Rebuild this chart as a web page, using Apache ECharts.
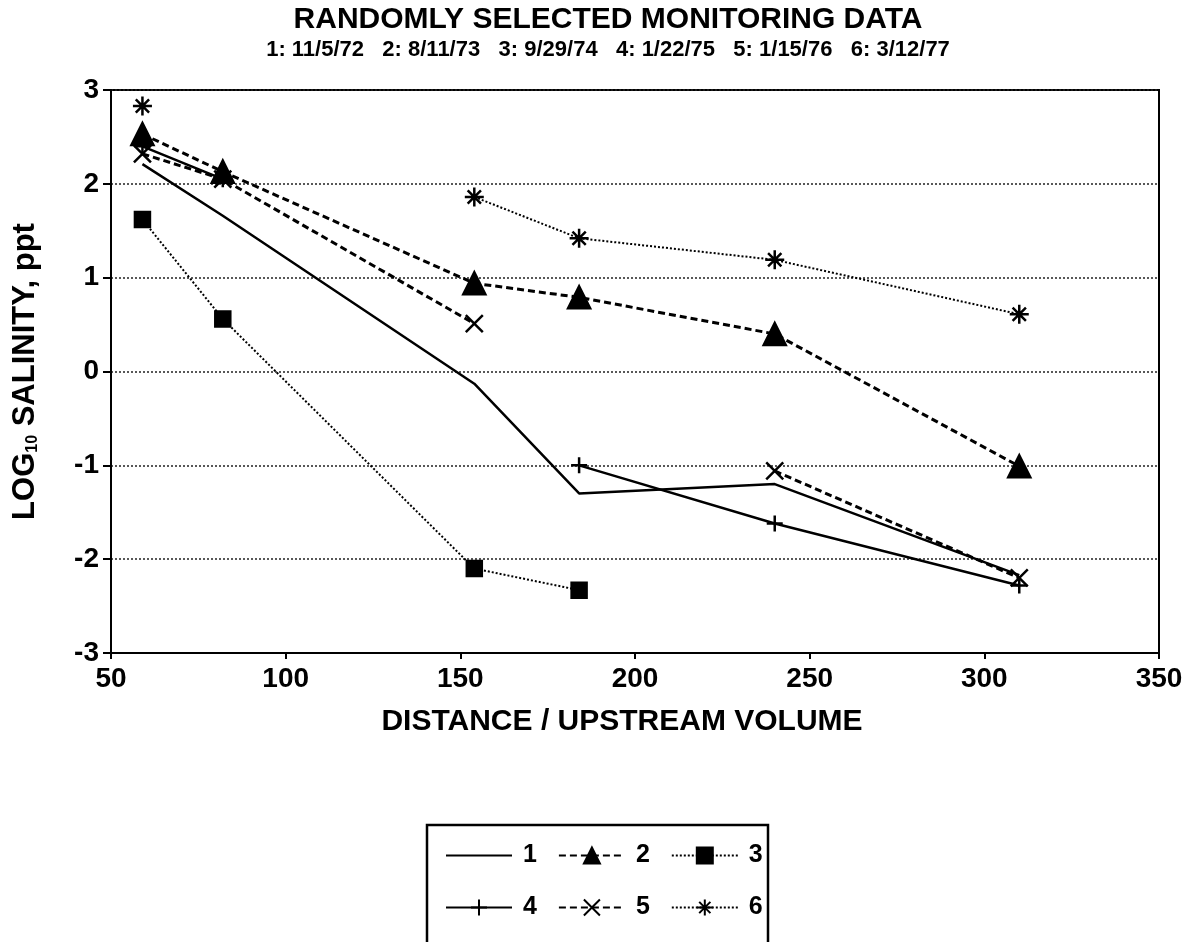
<!DOCTYPE html>
<html><head><meta charset="utf-8">
<script src="https://cdn.jsdelivr.net/npm/echarts@6/dist/echarts.min.js"></script>
<style>html,body{margin:0;padding:0;background:#fff}#c{width:1201px;height:942px}</style>
</head><body><div id="c"></div>
<script>
// Data
const distances = [59, 82, 154, 184, 240, 310];
const seriesNames = ['1', '2', '3', '4', '5', '6'];
const s1 = [2.21, 1.66, -0.13, -1.30, -1.20, -2.17];
const s2 = [2.53, 2.13, 0.94, 0.79, 0.40, -1.01];
const s3 = [1.62, 0.56, -2.10, -2.33, null, null];
const s4 = [2.40, 2.05, null, -1.00, -1.62, -2.28];
const s5 = [2.32, 2.05, 0.51, null, -1.06, -2.20];
const s6 = [2.83, null, 1.86, 1.42, 1.19, 0.61];
const xTicks = [50, 100, 150, 200, 250, 300, 350];
const yTicks = [-3, -2, -1, 0, 1, 2, 3];

const FONT = 'Liberation Sans, Arial, sans-serif';
const pair = arr => distances.map((d, i) => [d, arr[i]]);

const PLUS = 'path://M0,5 L10,5 M5,0 L5,10';
const CROSS = 'path://M0,0 L10,10 M10,0 L0,10';
const STAR = 'path://M5,0 L5,10 M0,5 L10,5 M1.5,1.5 L8.5,8.5 M8.5,1.5 L1.5,8.5';

function mk(name, data, symbol, size, lineType, lineWidth) {
  return {
    name: name, type: 'line', data: pair(data), connectNulls: false,
    symbol: symbol, symbolSize: size, showSymbol: symbol !== 'none',
    lineStyle: { color: '#000', width: lineWidth, type: lineType },
    itemStyle: { color: '#000', borderColor: '#000', borderWidth: 2.5 },
    emphasis: { disabled: true }, animation: false, z: 3
  };
}

const chart = echarts.init(document.getElementById('c'), null, { renderer: 'canvas' });
const legendCommon = {
  orient: 'horizontal', itemWidth: 66, itemHeight: 20, itemGap: 21,
  textStyle: { fontFamily: FONT, fontWeight: 'bold', fontSize: 25, color: '#000', padding: [0, 0, 0, 6] },
  selectedMode: false
};
chart.setOption({
  animation: false,
  backgroundColor: '#fff',
  title: {
    text: 'RANDOMLY SELECTED MONITORING DATA',
    subtext: '1: 11/5/72   2: 8/11/73   3: 9/29/74   4: 1/22/75   5: 1/15/76   6: 3/12/77',
    left: 603, textAlign: 'center', top: 0, itemGap: 4,
    textStyle: { fontFamily: FONT, fontWeight: 'bold', fontSize: 30, color: '#000' },
    subtextStyle: { fontFamily: FONT, fontWeight: 'bold', fontSize: 22, color: '#000' }
  },
  grid: { left: 111, right: 42, top: 90, bottom: 289, show: true, borderColor: '#000', borderWidth: 2, backgroundColor: 'transparent' },
  xAxis: {
    type: 'value', min: xTicks[0], max: xTicks[xTicks.length - 1], interval: 50,
    name: 'DISTANCE / UPSTREAM VOLUME', nameLocation: 'middle', nameGap: 54,
    nameTextStyle: { fontFamily: FONT, fontWeight: 'bold', fontSize: 30, color: '#000', padding: [0, 26, 0, 0] },
    axisLine: { onZero: false, lineStyle: { color: '#000', width: 2 } },
    axisTick: { show: true, length: 6, lineStyle: { color: '#000', width: 2 } },
    axisLabel: { fontFamily: FONT, fontWeight: 'bold', fontSize: 28, color: '#000', margin: 12 },
    splitLine: { show: false }
  },
  yAxis: {
    type: 'value', min: yTicks[0], max: yTicks[yTicks.length - 1], interval: 1,
    name: 'LOG{sub|10} SALINITY, ppt', nameLocation: 'middle', nameGap: 70, nameRotate: 90,
    nameTextStyle: { fontFamily: FONT, fontWeight: 'bold', fontSize: 31, color: '#000',
      rich: { sub: { fontFamily: FONT, fontWeight: 'bold', fontSize: 16, color: '#000', verticalAlign: 'bottom', padding: [14, 0, 0, 0] } } },
    axisLine: { onZero: false, lineStyle: { color: '#000', width: 2 } },
    axisTick: { show: true, length: 8, lineStyle: { color: '#000', width: 2 } },
    axisLabel: { fontFamily: FONT, fontWeight: 'bold', fontSize: 28, color: '#000', margin: 12 },
    splitLine: { show: true, lineStyle: { color: '#222', width: 1.5, type: [2, 2] } }
  },
  legend: [
    Object.assign({ left: 440, top: 838, data: [{ name: '1', itemStyle: { opacity: 0 } }, '2', '3'] }, legendCommon),
    Object.assign({ left: 440, top: 890, data: ['4', '5', '6'] }, legendCommon)
  ],
  graphic: [{
    type: 'rect', shape: { x: 427, y: 825, width: 341, height: 130 },
    style: { fill: 'none', stroke: '#000', lineWidth: 2.5 }, silent: true
  }],
  series: [
    mk(seriesNames[0], s1, 'none', 0, 'solid', 2.5),
    mk(seriesNames[1], s2, 'triangle', 22, [7, 4], 3),
    mk(seriesNames[2], s3, 'rect', 15, [2, 2], 2),
    mk(seriesNames[3], s4, PLUS, 16, 'solid', 2.5),
    mk(seriesNames[4], s5, CROSS, 17, [7, 4], 3),
    mk(seriesNames[5], s6, STAR, 19, [2, 2], 2)
  ]
});
</script></body></html>
